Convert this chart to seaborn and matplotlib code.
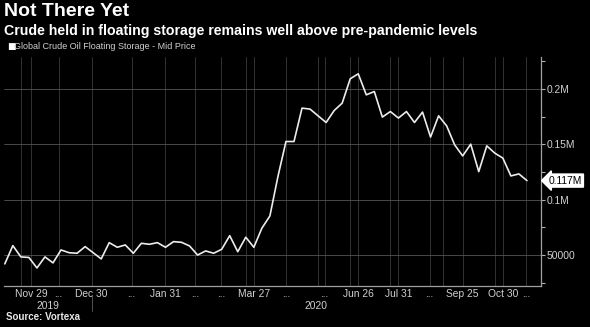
import matplotlib
matplotlib.use("Agg")
import matplotlib.pyplot as plt
import matplotlib.transforms as mtransforms
from matplotlib.lines import Line2D
import seaborn as sns
import pandas as pd
import numpy as np

# ---- data (thousand barrels, weekly-ish observations) ----
values_k = [42, 58.5, 48.3, 47.8, 38.3, 48.3, 42.9, 54.6, 52.1, 51.6,
            57.6, 52.1, 46.5, 61.2, 57.0, 59.1, 51.6, 60.6, 59.7, 61.2,
            57.0, 62.1, 61.5, 58.2, 50.0, 53.7, 51.6, 55.2, 67.5, 53.0,
            66.1, 57.0, 74.2, 85.3, 120.9, 152.6, 152.6, 182.8, 181.9, 175.8,
            169.8, 180.6, 187.3, 209.3, 213.8, 194.8, 197.8, 174.7, 179.7, 173.8,
            179.7, 169.8, 179.2, 156.6, 175.8, 166.8, 149.6, 139.6, 150.2, 125.4,
            148.7, 142.1, 137.6, 121.5, 123.3, 117.3]
tick_idx = [3.3, 6.7, 10.8, 15.8, 20, 23.7, 26.9, 31, 35, 39.8, 44, 49, 52.9, 57, 62, 64.9]
tick_labels = ["Nov 29", "...", "Dec 30", "...", "Jan 31", "...", "...", "Mar 27",
               "...", "...", "Jun 26", "Jul 31", "...", "Sep 25", "Oct 30", "..."]
minor_idx = [2, 30, 39, 43, 48, 54.6, 61]
year_labels = ["2019", "2020"]
year_pos = [5.4, 38.7]
year_break = 10.8
yticks = [50000, 100000, 150000, 200000]
ytick_labels = ["50000", "0.1M", "0.15M", "0.2M"]
series_name = "Global Crude Oil Floating Storage - Mid Price"

df = pd.DataFrame({"obs": np.arange(len(values_k)),
                   "value": np.array(values_k) * 1000})

sns.set_theme(style="dark")
plt.rcParams["font.family"] = ["Liberation Sans", "DejaVu Sans"]

BG = "#000000"
FG = "#d0d0d0"
GRID = "#3a3a3a"

fig = plt.figure(figsize=(5.9, 3.27), dpi=100, facecolor=BG)
ax = fig.add_axes([4 / 590, 41 / 327, 537 / 590, 229 / 327])
ax.set_facecolor(BG)

sns.lineplot(data=df, x="obs", y="value", ax=ax, color="#ececec",
             linewidth=1.2, legend=False)

ax.set_xlim(-0.1, 66.75)
ax.set_ylim(22000, 229000)

# y axis on right
ax.yaxis.tick_right()
ax.set_yticks(yticks)
ax.set_yticklabels(ytick_labels)
ax.set_yticks(np.arange(25000, 229000, 25000), minor=True)
ax.tick_params(axis="y", which="both", colors="#b0b0b0", labelcolor=FG,
               labelsize=7.4, length=3, width=0.8, pad=1, direction="out",
               right=True, left=False)

ax.set_xticks(tick_idx)
ax.set_xticklabels(tick_labels)
ax.set_xticks(minor_idx, minor=True)
ax.tick_params(axis="x", which="both", colors="#909090", labelcolor=FG,
               labelsize=7.4, length=2, width=0.6, pad=0.5)

ax.set_xlabel("")
ax.set_ylabel("")

for s in ["top", "left"]:
    ax.spines[s].set_visible(False)
for s in ["bottom", "right"]:
    ax.spines[s].set_visible(True)
    ax.spines[s].set_color("#a0a0a0")
    ax.spines[s].set_linewidth(0.9)

ax.grid(True, axis="x", which="both", color=GRID, linewidth=0.6)
ax.grid(True, axis="y", which="major", color="#555555", linewidth=0.6)
ax.set_axisbelow(True)

# year labels and separator
trans = mtransforms.blended_transform_factory(ax.transData, ax.transAxes)
for lab, pos in zip(year_labels, year_pos):
    ax.text(pos, -0.087, lab, transform=trans, ha="center", va="center",
            fontsize=7.4, color=FG)
ax.add_line(Line2D([year_break, year_break], [-0.04, -0.11], transform=trans,
                   color="#606060", linewidth=0.6, clip_on=False))

# current value tag
last = df["value"].iloc[-1]
transv = mtransforms.blended_transform_factory(ax.transAxes, ax.transData)
ax.text(1.014, last, f"{last / 1e6:.3f}M", transform=transv, ha="left",
        va="center", fontsize=7.4, color="#000000",
        bbox=dict(boxstyle="larrow,pad=0.15", fc="#ffffff", ec="#ffffff"))

# titles
fig.text(4 / 590, 1 - 12 / 327, "Not There Yet", fontsize=14,
         fontweight="bold", color="#ffffff", ha="left", va="center")
fig.text(4 / 590, 1 - 30.5 / 327,
         "Crude held in floating storage remains well above pre-pandemic levels",
         fontsize=10.2, fontweight="bold", color="#ffffff", ha="left", va="center")
fig.text(7 / 590, 1 - 46.5 / 327, "\u25a0", fontsize=6.5, color="#ffffff",
         ha="left", va="center", family=["DejaVu Sans"])
fig.text(14 / 590, 1 - 46.5 / 327, series_name, fontsize=6.5, color=FG,
         ha="left", va="center")
fig.text(6 / 590, 1 - 317 / 327, "Source: Vortexa", fontsize=7,
         fontweight="bold", color="#e8e8e8", ha="left", va="center")

fig.savefig("out.png", dpi=100, facecolor=BG)
